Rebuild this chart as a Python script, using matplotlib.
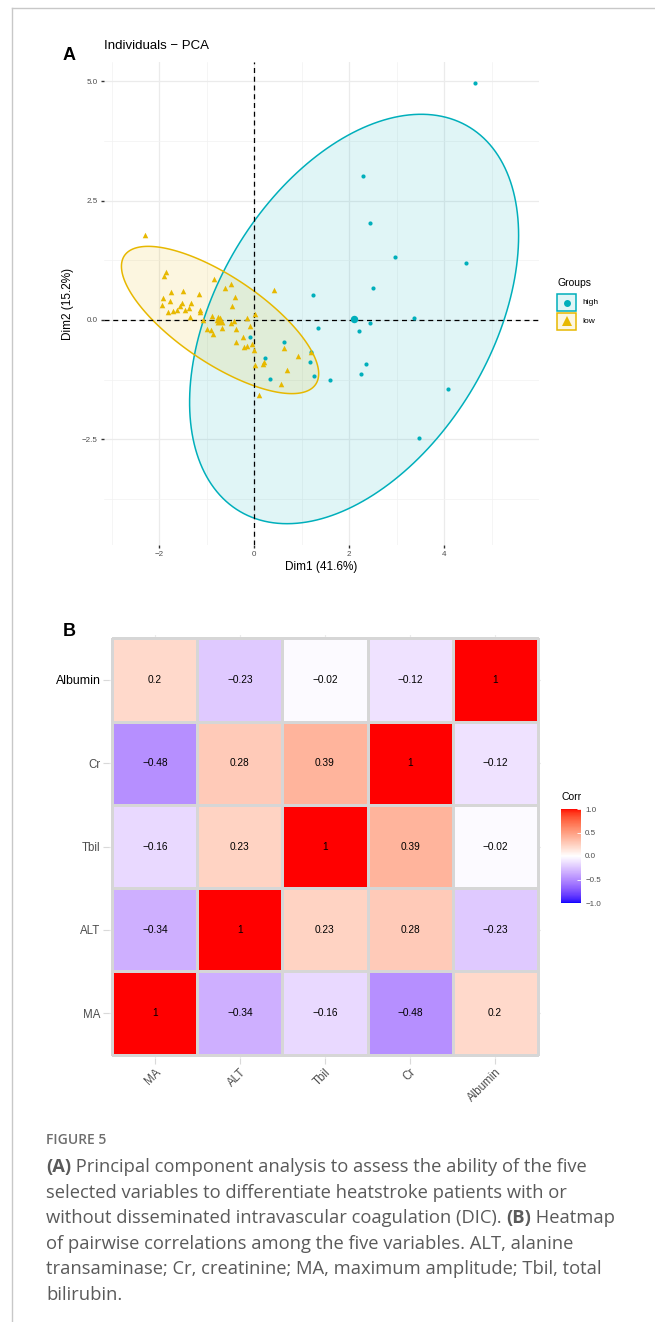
import numpy as np
import matplotlib
matplotlib.use("Agg")
import matplotlib.pyplot as plt
from matplotlib.patches import Polygon, Rectangle
from matplotlib.colors import ListedColormap, Normalize
from matplotlib.lines import Line2D

# PCA individual scores (Dim1, Dim2) for each group
high_x = [4.65, 2.30, 2.44, 2.97, 4.47, 2.51, 1.24, 3.37, 2.45, 1.35, 2.20, -0.08,
          0.63, 1.20, 0.23, 1.17, 2.35, 2.25, 1.27, 0.33, 1.59, 4.09, 3.47]
high_y = [4.95, 3.01, 2.04, 1.32, 1.19, 0.66, 0.52, 0.04, -0.07, -0.17, -0.23, -0.35,
          -0.46, -0.66, -0.79, -0.87, -0.93, -1.13, -1.18, -1.24, -1.26, -1.44, -2.47]
low_x = [-2.29, -1.86, -1.89, -0.85, -0.48, -0.62, 0.41, -1.75, -1.50, -1.16,
         -0.40, -1.92, -1.77, -1.51, -1.33, -1.94, -1.56, -1.38, -1.45, -0.47,
         -1.63, -1.70, -1.82, -1.14, -1.13, 0.03, -1.35, -0.88, -0.76, -0.79,
         -0.71, -0.15, -1.07, -0.42, -0.48, -0.08, -1.00, -0.91, -0.67, -0.37,
         -0.86, -0.23, -0.37, -0.05, -0.14, -0.22, -0.01, 0.63, 0.92, 1.19,
         0.20, 0.18, 0.03, 0.70, 0.57, 0.11]
low_y = [1.78, 1.01, 0.92, 0.85, 0.76, 0.66, 0.62, 0.59, 0.60, 0.54,
         0.49, 0.45, 0.39, 0.36, 0.36, 0.32, 0.29, 0.25, 0.21, 0.30,
         0.21, 0.19, 0.17, 0.20, 0.17, 0.13, 0.06, 0.08, 0.06, -0.01,
         -0.03, 0.04, 0.01, -0.03, -0.07, -0.13, -0.18, -0.22, -0.16, -0.19,
         -0.29, -0.36, -0.46, -0.50, -0.54, -0.57, -0.63, -0.59, -0.75, -0.68,
         -0.87, -0.92, -0.95, -1.05, -1.33, -1.56]
groups = ["high", "low"]
group_colors = {"high": "#00AFBB", "low": "#E7B800"}

# correlation matrix
variables = ["MA", "ALT", "Tbil", "Cr", "Albumin"]
corr = np.array([
    [1.00, -0.34, -0.16, -0.48, 0.20],
    [-0.34, 1.00, 0.23, 0.28, -0.23],
    [-0.16, 0.23, 1.00, 0.39, -0.02],
    [-0.48, 0.28, 0.39, 1.00, -0.12],
    [0.20, -0.23, -0.02, -0.12, 1.00],
])
corr_ticks = [-1.0, -0.5, 0.0, 0.5, 1.0]

caption_title = "FIGURE 5"
caption_lines = [
    [("(A)", True), (" Principal component analysis to assess the ability of the five", False)],
    [("selected variables to differentiate heatstroke patients with or", False)],
    [("without disseminated intravascular coagulation (DIC). ", False), ("(B)", True), (" Heatmap", False)],
    [("of pairwise correlations among the five variables. ALT, alanine", False)],
    [("transaminase; Cr, creatinine; MA, maximum amplitude; Tbil, total", False)],
    [("bilirubin.", False)],
]

W, H = 655, 1322
CHART_FONT = ["Liberation Sans", "DejaVu Sans"]
plt.rcParams["font.family"] = CHART_FONT
TXT = "#4D4D4D"


def fx(x):
    return x / W


def fy(y):
    return 1 - y / H


def box(left, top, right, bottom):
    return [fx(left), fy(bottom), (right - left) / W, (bottom - top) / H]


def minus(s):
    return s.replace("-", "\u2212")


def ellipse_pts(x, y, level=0.95, segments=200):
    # normal-theory data ellipse, same radius rule as ggplot2::stat_ellipse(type="norm")
    pts = np.column_stack([x, y])
    n = len(pts)
    center = pts.mean(axis=0)
    cov = np.cov(pts, rowvar=False)
    dfd = n - 1
    f = dfd / 2 * ((1 - level) ** (-2 / dfd) - 1)  # F(2, dfd) quantile
    radius = np.sqrt(2 * f)
    chol = np.linalg.cholesky(cov)
    t = np.linspace(0, 2 * np.pi, segments)
    circle = np.column_stack([np.cos(t), np.sin(t)])
    return center + radius * circle @ chol.T


# Lab-space gradient blue -> white -> red
def srgb_to_lab(rgb):
    rgb = np.asarray(rgb, float)
    lin = np.where(rgb <= 0.04045, rgb / 12.92, ((rgb + 0.055) / 1.055) ** 2.4)
    m = np.array([[0.4124, 0.3576, 0.1805], [0.2126, 0.7152, 0.0722], [0.0193, 0.1192, 0.9505]])
    xyz = m @ lin / np.array([0.95047, 1.0, 1.08883])
    f = np.where(xyz > 0.008856, np.cbrt(xyz), 7.787 * xyz + 16 / 116)
    return np.array([116 * f[1] - 16, 500 * (f[0] - f[1]), 200 * (f[1] - f[2])])


def lab_to_srgb(lab):
    L, a, b = lab
    fy_ = (L + 16) / 116
    fx_ = fy_ + a / 500
    fz_ = fy_ - b / 200
    f = np.array([fx_, fy_, fz_])
    xyz = np.where(f ** 3 > 0.008856, f ** 3, (f - 16 / 116) / 7.787) * np.array([0.95047, 1.0, 1.08883])
    m = np.array([[3.2406, -1.5372, -0.4986], [-0.9689, 1.8758, 0.0415], [0.0557, -0.2040, 1.0570]])
    lin = np.clip(m @ xyz, 0, 1)
    rgb = np.where(lin <= 0.0031308, 12.92 * lin, 1.055 * lin ** (1 / 2.4) - 0.055)
    return np.clip(rgb, 0, 1)


lab_blue = srgb_to_lab([0, 0, 1])
lab_white = srgb_to_lab([1, 1, 1])
lab_red = srgb_to_lab([1, 0, 0])
ramp = []
for t in np.linspace(-1, 1, 256):
    if t < 0:
        lab = lab_white + (lab_blue - lab_white) * (-t)
    else:
        lab = lab_white + (lab_red - lab_white) * t
    ramp.append(lab_to_srgb(lab))
corr_cmap = ListedColormap(ramp)

fig = plt.figure(figsize=(W / 100, H / 100), dpi=100)

# frame lines of the figure box
fig.add_artist(Line2D([fx(12), fx(12)], [0, fy(8)], color="#C8C8C8", lw=1))
fig.add_artist(Line2D([fx(12), 1], [fy(8), fy(8)], color="#C8C8C8", lw=1))

# ---------------- Panel A: PCA individuals ----------------
ax = fig.add_axes(box(104, 62, 539, 545))
ax.set_xlim(-3.16, 6.0)
ax.set_ylim(-4.71, 5.40)
ax.set_xticks([-2, 0, 2, 4])
ax.set_yticks([-2.5, 0.0, 2.5, 5.0])
ax.set_xticks([-3, -1, 1, 3, 5], minor=True)
ax.set_yticks([-3.75, -1.25, 1.25, 3.75], minor=True)
ax.set_yticklabels([minus(f"{v:.1f}") for v in [-2.5, 0.0, 2.5, 5.0]])
ax.set_xticklabels([minus(f"{v:d}") for v in [-2, 0, 2, 4]])
ax.grid(which="major", color="#EBEBEB", lw=0.9)
ax.grid(which="minor", color="#F2F2F2", lw=0.5)
ax.set_axisbelow(True)
for s in ax.spines.values():
    s.set_visible(False)
ax.tick_params(which="major", length=2.5, width=1, color="#333333", labelsize=5.8,
               labelcolor=TXT, pad=2)
ax.tick_params(which="minor", length=0)

data = {"high": (high_x, high_y), "low": (low_x, low_y)}
markers = {"high": "o", "low": "^"}
sizes = {"high": 9, "low": 16}
for g in groups:
    gx, gy = data[g]
    e = ellipse_pts(gx, gy)
    ax.add_patch(Polygon(e, closed=True, facecolor=group_colors[g], alpha=0.12,
                         edgecolor="none", zorder=1))
    ax.add_patch(Polygon(e, closed=True, facecolor="none", edgecolor=group_colors[g],
                         lw=1.1, zorder=2))

ax.axhline(0, color="black", ls=(0, (4, 3)), lw=0.9, zorder=3)
ax.axvline(0, color="black", ls=(0, (4, 3)), lw=0.9, zorder=3)

for g in groups:
    gx, gy = data[g]
    ax.scatter(gx, gy, s=sizes[g], marker=markers[g], color=group_colors[g],
               linewidths=0, zorder=4)
    ax.scatter([np.mean(gx)], [np.mean(gy)], s=sizes[g] * 3.2, marker=markers[g],
               color=group_colors[g], linewidths=0, zorder=5)

ax.set_xlabel("Dim1 (41.6%)", fontsize=8.5, labelpad=2)
ax.set_ylabel("Dim2 (15.2%)", fontsize=8.5, labelpad=6)
fig.text(fx(104), fy(46), "Individuals \u2212 PCA", fontsize=9.5, va="center", ha="left")
fig.text(fx(63), fy(55), "A", fontsize=13, fontweight="bold", va="center", ha="left")

# legend for groups
fig.text(fx(557), fy(283), "Groups", fontsize=7.5, va="center", ha="left")
for i, g in enumerate(groups):
    top = 294 + i * 19
    fig.add_artist(Rectangle((fx(557), fy(top + 17)), 19 / W, 17 / H, transform=fig.transFigure,
                             facecolor=group_colors[g], alpha=0.12, edgecolor="none"))
    fig.add_artist(Rectangle((fx(557), fy(top + 17)), 19 / W, 17 / H, transform=fig.transFigure,
                             facecolor="none", edgecolor=group_colors[g], lw=1.1))
    fig.add_artist(Line2D([fx(566.5)], [fy(top + 8.5)], marker=markers[g], ls="none",
                          markersize=5 if g == "high" else 6.5, color=group_colors[g],
                          markeredgewidth=0))
    fig.text(fx(582), fy(top + 8.5), g, fontsize=6, va="center", ha="left")

# ---------------- Panel B: correlation heatmap ----------------
fig.text(fx(63), fy(632), "B", fontsize=13, fontweight="bold", va="center", ha="left")
hx = fig.add_axes(box(109, 635, 541, 1058))
n = len(variables)
pad = 0.04
for k in range(n):
    hx.axvline(k + 0.5, color="#EBEBEB", lw=0.8, zorder=0)
    hx.axhline(k + 0.5, color="#EBEBEB", lw=0.8, zorder=0)
mesh = hx.pcolormesh(np.arange(n + 1), np.arange(n + 1), corr, cmap=corr_cmap,
                     norm=Normalize(-1, 1), edgecolors="#D6D6D6", linewidth=0.8, zorder=1)
for i in range(n):
    for j in range(n):
        v = round(corr[i, j], 2)
        hx.text(j + 0.5, i + 0.5, minus(f"{v:g}"), ha="center", va="center",
                fontsize=7.3, color="black", zorder=2)
hx.set_xlim(-pad, n + pad)
hx.set_ylim(-pad, n + pad)
for s in hx.spines.values():
    s.set_visible(False)
hx.set_xticks(np.arange(n) + 0.5)
hx.set_yticks(np.arange(n) + 0.5)
hx.set_xticklabels(variables, rotation=45, ha="right", va="top", rotation_mode="anchor")
hx.set_yticklabels(variables)
hx.tick_params(length=4, width=0.8, color="#D9D9D9", labelsize=8.3, labelcolor=TXT, pad=2)
hx.get_yticklabels()[-1].set_color("black")
hx.get_yticklabels()[-1].set_fontsize(8.8)

cax = fig.add_axes(box(561, 809, 581, 903))
cb = fig.colorbar(mesh, cax=cax, ticks=corr_ticks)
cb.outline.set_visible(False)
cb.ax.set_yticklabels([minus(f"{v:.1f}") for v in corr_ticks])
cb.ax.tick_params(direction="in", length=3, width=0.6, color="white", labelsize=5.8,
                  labelcolor=TXT, pad=3)
fig.text(fx(561), fy(797), "Corr", fontsize=7.5, va="center", ha="left")

# ---------------- caption ----------------
CAP_FONT = ["Open Sans", "DejaVu Sans"]
fig.text(fx(46), fy(1140), caption_title, fontsize=10, color="#6E6E6E", family=CAP_FONT,
         fontweight="semibold", va="center", ha="left")
renderer = fig.canvas.get_renderer()
y = 1167
for line in caption_lines:
    x = 46
    for seg, bold in line:
        t = fig.text(fx(x), fy(y), seg, fontsize=13.2, color="#5A5A5A", family=CAP_FONT,
                     fontweight="bold" if bold else "normal", va="center", ha="left")
        x += t.get_window_extent(renderer).width
    y += 25.6

fig.savefig("out.png", dpi=100)
